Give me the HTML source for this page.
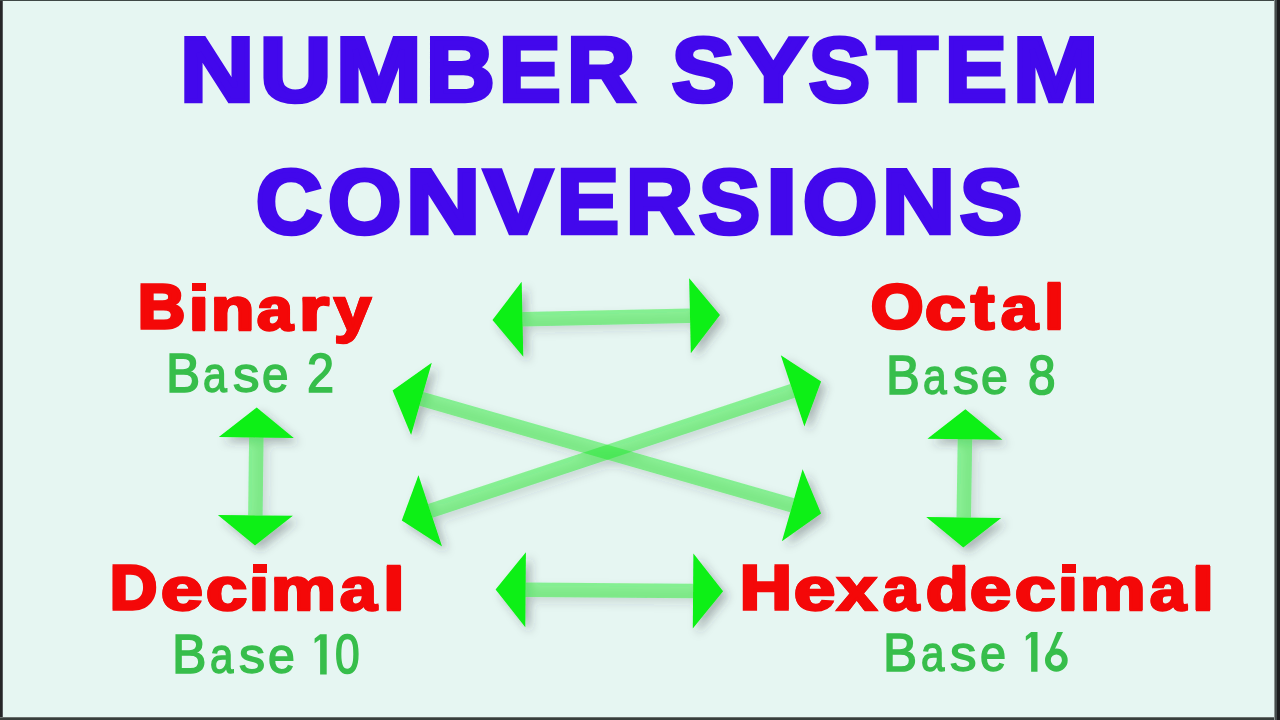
<!DOCTYPE html>
<html><head><meta charset="utf-8">
<style>
html,body{margin:0;padding:0;width:1280px;height:720px;overflow:hidden;background:#262628}
#c{position:absolute;left:0;top:0;width:1280px;height:720px;background:#e6f6f2}
.g{position:absolute;font-family:"Liberation Sans",sans-serif;line-height:1;white-space:pre;transform-origin:0 0;display:block}
svg{position:absolute;left:0;top:0}
.d{position:absolute;display:block}
</style></head><body>
<div id="c"></div>
<i class="d" style="left:0;top:0;width:2px;height:720px;background:#262628"></i>
<i class="d" style="left:2px;top:0;width:1px;height:720px;background:#55585a"></i>
<i class="d" style="left:0;top:0;width:1280px;height:1px;background:#3f4846"></i>
<i class="d" style="left:1274px;top:0;width:1px;height:720px;background:#8a9290"></i>
<i class="d" style="left:1275px;top:0;width:2px;height:720px;background:#454b4b"></i>
<i class="d" style="left:1277px;top:0;width:3px;height:720px;background:#1c1c1e"></i>
<i class="d" style="left:0;top:717px;width:1274px;height:1px;background:#6a706e"></i>
<i class="d" style="left:0;top:718px;width:1274px;height:2px;background:#383e3c"></i>
<svg width="1280" height="720" viewBox="0 0 1280 720">
<defs><filter id="sh" x="-20%" y="-20%" width="140%" height="140%"><feDropShadow dx="5" dy="5" stdDeviation="5" flood-color="#303040" flood-opacity="0.33"/></filter></defs>
<g filter="url(#sh)"><g stroke="#19eb23" stroke-opacity="0.45" stroke-width="14.5"><line x1="522.49" y1="319.34" x2="690.01" y2="315.66"/><line x1="525.60" y1="589.64" x2="693.10" y2="591.01"/><line x1="256.33" y1="437.50" x2="255.37" y2="515.40"/><line x1="964.94" y1="439.20" x2="963.76" y2="517.50"/><line x1="421.44" y1="398.87" x2="792.26" y2="505.23"/><line x1="430.28" y1="510.96" x2="792.62" y2="390.84"/></g><g fill="#08f012"><polygon points="492.50,320.00 523.32,356.83 521.67,281.85"/><polygon points="720.00,315.00 690.83,353.15 689.18,278.17"/><polygon points="495.60,589.40 525.29,627.14 525.90,552.15"/><polygon points="723.10,591.25 692.80,628.50 693.41,553.51"/><polygon points="256.70,407.50 218.83,437.04 293.83,437.96"/><polygon points="255.00,545.40 217.87,514.94 292.87,515.86"/><polygon points="965.40,409.20 927.45,438.63 1002.44,439.77"/><polygon points="963.30,547.50 926.26,516.93 1001.25,518.07"/><polygon points="392.60,390.60 411.10,434.92 431.78,362.82"/><polygon points="821.10,513.50 781.92,541.28 802.60,469.18"/><polygon points="401.80,520.40 442.08,546.56 418.48,475.36"/><polygon points="821.10,381.40 804.42,426.44 780.82,355.24"/></g></g><ellipse cx="1056.35" cy="660.16" rx="8.46" ry="8.65" fill="none" stroke="#37be4b" stroke-width="5.79"/><polygon fill="#37be4b" points="1057.10,631.90 1063.01,631.90 1051.66,655.78 1045.75,659.76"/><polygon fill="#37be4b" points="320.11,634.25 326.70,634.25 326.70,674.50 320.11,674.50 320.11,639.40 314.60,643.31 314.60,638.60"/><polygon fill="#37be4b" points="1031.12,631.90 1037.50,631.90 1037.50,671.70 1031.12,671.70 1031.12,636.99 1025.80,640.86 1025.80,636.20"/>
</svg>
<span class="g" style="left:180.44px;top:24.22px;font-size:90.0px;font-weight:700;color:#4208ec;-webkit-text-stroke:4.5px #4208ec;text-shadow:1.5px 0 0 #4208ec,-1.5px 0 0 #4208ec;transform:scale(1.1404,1.0075)">N</span>
<span class="g" style="left:260.02px;top:24.22px;font-size:90.0px;font-weight:700;color:#4208ec;-webkit-text-stroke:4.5px #4208ec;text-shadow:1.5px 0 0 #4208ec,-1.5px 0 0 #4208ec;transform:scale(1.0949,1.0075)">U</span>
<span class="g" style="left:336.34px;top:24.22px;font-size:90.0px;font-weight:700;color:#4208ec;-webkit-text-stroke:4.5px #4208ec;text-shadow:1.5px 0 0 #4208ec,-1.5px 0 0 #4208ec;transform:scale(1.1403,1.0075)">M</span>
<span class="g" style="left:425.58px;top:24.22px;font-size:90.0px;font-weight:700;color:#4208ec;-webkit-text-stroke:4.5px #4208ec;text-shadow:1.5px 0 0 #4208ec,-1.5px 0 0 #4208ec;transform:scale(1.0559,1.0075)">B</span>
<span class="g" style="left:499.10px;top:24.22px;font-size:90.0px;font-weight:700;color:#4208ec;-webkit-text-stroke:4.5px #4208ec;text-shadow:1.5px 0 0 #4208ec,-1.5px 0 0 #4208ec;transform:scale(1.0255,1.0075)">E</span>
<span class="g" style="left:567.11px;top:24.22px;font-size:90.0px;font-weight:700;color:#4208ec;-webkit-text-stroke:4.5px #4208ec;text-shadow:1.5px 0 0 #4208ec,-1.5px 0 0 #4208ec;transform:scale(1.0476,1.0075)">R</span>
<span class="g" style="left:671.80px;top:24.22px;font-size:90.0px;font-weight:700;color:#4208ec;-webkit-text-stroke:4.5px #4208ec;text-shadow:1.5px 0 0 #4208ec,-1.5px 0 0 #4208ec;transform:scale(1.0390,1.0075)">S</span>
<span class="g" style="left:740.42px;top:24.22px;font-size:90.0px;font-weight:700;color:#4208ec;-webkit-text-stroke:4.5px #4208ec;text-shadow:1.5px 0 0 #4208ec,-1.5px 0 0 #4208ec;transform:scale(1.1109,1.0075)">Y</span>
<span class="g" style="left:809.30px;top:24.22px;font-size:90.0px;font-weight:700;color:#4208ec;-webkit-text-stroke:4.5px #4208ec;text-shadow:1.5px 0 0 #4208ec,-1.5px 0 0 #4208ec;transform:scale(1.0153,1.0075)">S</span>
<span class="g" style="left:877.40px;top:24.22px;font-size:90.0px;font-weight:700;color:#4208ec;-webkit-text-stroke:4.5px #4208ec;text-shadow:1.5px 0 0 #4208ec,-1.5px 0 0 #4208ec;transform:scale(1.0982,1.0075)">T</span>
<span class="g" style="left:944.89px;top:24.22px;font-size:90.0px;font-weight:700;color:#4208ec;-webkit-text-stroke:4.5px #4208ec;text-shadow:1.5px 0 0 #4208ec,-1.5px 0 0 #4208ec;transform:scale(1.0273,1.0075)">E</span>
<span class="g" style="left:1012.55px;top:24.22px;font-size:90.0px;font-weight:700;color:#4208ec;-webkit-text-stroke:4.5px #4208ec;text-shadow:1.5px 0 0 #4208ec,-1.5px 0 0 #4208ec;transform:scale(1.1373,1.0075)">M</span>
<span class="g" style="left:256.08px;top:156.97px;font-size:90.0px;font-weight:700;color:#4208ec;-webkit-text-stroke:4.5px #4208ec;text-shadow:1.5px 0 0 #4208ec,-1.5px 0 0 #4208ec;transform:scale(1.0156,1.0030)">C</span>
<span class="g" style="left:328.15px;top:156.97px;font-size:90.0px;font-weight:700;color:#4208ec;-webkit-text-stroke:4.5px #4208ec;text-shadow:1.5px 0 0 #4208ec,-1.5px 0 0 #4208ec;transform:scale(1.0463,1.0030)">O</span>
<span class="g" style="left:405.94px;top:156.97px;font-size:90.0px;font-weight:700;color:#4208ec;-webkit-text-stroke:4.5px #4208ec;text-shadow:1.5px 0 0 #4208ec,-1.5px 0 0 #4208ec;transform:scale(1.1404,1.0030)">N</span>
<span class="g" style="left:483.88px;top:156.97px;font-size:90.0px;font-weight:700;color:#4208ec;-webkit-text-stroke:4.5px #4208ec;text-shadow:1.5px 0 0 #4208ec,-1.5px 0 0 #4208ec;transform:scale(1.1375,1.0030)">V</span>
<span class="g" style="left:557.38px;top:156.97px;font-size:90.0px;font-weight:700;color:#4208ec;-webkit-text-stroke:4.5px #4208ec;text-shadow:1.5px 0 0 #4208ec,-1.5px 0 0 #4208ec;transform:scale(1.0309,1.0030)">E</span>
<span class="g" style="left:625.87px;top:156.97px;font-size:90.0px;font-weight:700;color:#4208ec;-webkit-text-stroke:4.5px #4208ec;text-shadow:1.5px 0 0 #4208ec,-1.5px 0 0 #4208ec;transform:scale(1.0317,1.0030)">R</span>
<span class="g" style="left:699.00px;top:156.97px;font-size:90.0px;font-weight:700;color:#4208ec;-webkit-text-stroke:4.5px #4208ec;text-shadow:1.5px 0 0 #4208ec,-1.5px 0 0 #4208ec;transform:scale(1.0169,1.0030)">S</span>
<span class="g" style="left:766.19px;top:156.97px;font-size:90.0px;font-weight:700;color:#4208ec;-webkit-text-stroke:4.5px #4208ec;text-shadow:1.5px 0 0 #4208ec,-1.5px 0 0 #4208ec;transform:scale(1.2529,1.0030)">I</span>
<span class="g" style="left:802.64px;top:156.97px;font-size:90.0px;font-weight:700;color:#4208ec;-webkit-text-stroke:4.5px #4208ec;text-shadow:1.5px 0 0 #4208ec,-1.5px 0 0 #4208ec;transform:scale(1.0612,1.0030)">O</span>
<span class="g" style="left:881.51px;top:156.97px;font-size:90.0px;font-weight:700;color:#4208ec;-webkit-text-stroke:4.5px #4208ec;text-shadow:1.5px 0 0 #4208ec,-1.5px 0 0 #4208ec;transform:scale(1.1228,1.0030)">N</span>
<span class="g" style="left:960.00px;top:156.97px;font-size:90.0px;font-weight:700;color:#4208ec;-webkit-text-stroke:4.5px #4208ec;text-shadow:1.5px 0 0 #4208ec,-1.5px 0 0 #4208ec;transform:scale(1.0339,1.0030)">S</span>
<span class="g" style="left:137.70px;top:275.47px;font-size:62.1px;font-weight:700;color:#f40808;-webkit-text-stroke:3.5px #f40808;text-shadow:1.5px 0 0 #f40808,-1.5px 0 0 #f40808;transform:scale(1.0476,1.0191)">B</span>
<span class="g" style="left:188.60px;top:279.01px;font-size:62.1px;font-weight:700;color:#f40808;-webkit-text-stroke:2.5px #f40808;text-shadow:1.5px 0 0 #f40808,-1.5px 0 0 #f40808;transform:scale(1.1333,0.9714)">ı</span>
<span class="g" style="left:210.88px;top:279.01px;font-size:62.1px;font-weight:700;color:#f40808;-webkit-text-stroke:2.5px #f40808;text-shadow:1.5px 0 0 #f40808,-1.5px 0 0 #f40808;transform:scale(1.1394,0.9714)">n</span>
<span class="g" style="left:257.00px;top:279.01px;font-size:62.1px;font-weight:700;color:#f40808;-webkit-text-stroke:2.5px #f40808;text-shadow:1.5px 0 0 #f40808,-1.5px 0 0 #f40808;transform:scale(1.0405,0.9714)">a</span>
<span class="g" style="left:298.98px;top:279.01px;font-size:62.1px;font-weight:700;color:#f40808;-webkit-text-stroke:2.5px #f40808;text-shadow:1.5px 0 0 #f40808,-1.5px 0 0 #f40808;transform:scale(1.2409,0.9714)">r</span>
<span class="g" style="left:334.07px;top:279.01px;font-size:62.1px;font-weight:700;color:#f40808;-webkit-text-stroke:2.5px #f40808;text-shadow:1.5px 0 0 #f40808,-1.5px 0 0 #f40808;transform:scale(1.0730,0.9714)">y</span>
<span class="g" style="left:870.62px;top:275.24px;font-size:62.1px;font-weight:700;color:#f40808;-webkit-text-stroke:3.5px #f40808;text-shadow:1.5px 0 0 #f40808,-1.5px 0 0 #f40808;transform:scale(1.0826,1.0234)">O</span>
<span class="g" style="left:925.02px;top:278.26px;font-size:62.1px;font-weight:700;color:#f40808;-webkit-text-stroke:2.5px #f40808;text-shadow:1.5px 0 0 #f40808,-1.5px 0 0 #f40808;transform:scale(1.1818,0.9857)">c</span>
<span class="g" style="left:971.12px;top:277.39px;font-size:62.1px;font-weight:700;color:#f40808;-webkit-text-stroke:2.5px #f40808;text-shadow:1.5px 0 0 #f40808,-1.5px 0 0 #f40808;transform:scale(1.1217,1.0021)">t</span>
<span class="g" style="left:1001.00px;top:278.26px;font-size:62.1px;font-weight:700;color:#f40808;-webkit-text-stroke:2.5px #f40808;text-shadow:1.5px 0 0 #f40808,-1.5px 0 0 #f40808;transform:scale(1.0676,0.9857)">a</span>
<span class="g" style="left:1043.78px;top:277.39px;font-size:62.1px;font-weight:700;color:#f40808;-webkit-text-stroke:2.5px #f40808;text-shadow:1.5px 0 0 #f40808,-1.5px 0 0 #f40808;transform:scale(1.1727,1.0021)">l</span>
<span class="g" style="left:110.00px;top:557.25px;font-size:62.1px;font-weight:700;color:#f40808;-webkit-text-stroke:3.5px #f40808;text-shadow:1.5px 0 0 #f40808,-1.5px 0 0 #f40808;transform:scale(1.0512,1.0000)">D</span>
<span class="g" style="left:160.69px;top:559.39px;font-size:62.1px;font-weight:700;color:#f40808;-webkit-text-stroke:2.5px #f40808;text-shadow:1.5px 0 0 #f40808,-1.5px 0 0 #f40808;transform:scale(1.2121,0.9786)">e</span>
<span class="g" style="left:205.71px;top:559.39px;font-size:62.1px;font-weight:700;color:#f40808;-webkit-text-stroke:2.5px #f40808;text-shadow:1.5px 0 0 #f40808,-1.5px 0 0 #f40808;transform:scale(1.1924,0.9786)">c</span>
<span class="g" style="left:249.31px;top:559.39px;font-size:62.1px;font-weight:700;color:#f40808;-webkit-text-stroke:2.5px #f40808;text-shadow:1.5px 0 0 #f40808,-1.5px 0 0 #f40808;transform:scale(1.1458,0.9786)">ı</span>
<span class="g" style="left:271.48px;top:559.39px;font-size:62.1px;font-weight:700;color:#f40808;-webkit-text-stroke:2.5px #f40808;text-shadow:1.5px 0 0 #f40808,-1.5px 0 0 #f40808;transform:scale(1.1750,0.9786)">m</span>
<span class="g" style="left:340.00px;top:559.39px;font-size:62.1px;font-weight:700;color:#f40808;-webkit-text-stroke:2.5px #f40808;text-shadow:1.5px 0 0 #f40808,-1.5px 0 0 #f40808;transform:scale(1.0649,0.9786)">a</span>
<span class="g" style="left:382.50px;top:559.35px;font-size:62.1px;font-weight:700;color:#f40808;-webkit-text-stroke:2.5px #f40808;text-shadow:1.5px 0 0 #f40808,-1.5px 0 0 #f40808;transform:scale(1.2500,0.9792)">l</span>
<span class="g" style="left:739.80px;top:556.96px;font-size:62.1px;font-weight:700;color:#f40808;-webkit-text-stroke:3.5px #f40808;text-shadow:1.5px 0 0 #f40808,-1.5px 0 0 #f40808;transform:scale(1.1500,1.0053)">H</span>
<span class="g" style="left:794.41px;top:559.39px;font-size:62.1px;font-weight:700;color:#f40808;-webkit-text-stroke:2.5px #f40808;text-shadow:1.5px 0 0 #f40808,-1.5px 0 0 #f40808;transform:scale(1.1939,0.9786)">e</span>
<span class="g" style="left:837.40px;top:559.39px;font-size:62.1px;font-weight:700;color:#f40808;-webkit-text-stroke:2.5px #f40808;text-shadow:1.5px 0 0 #f40808,-1.5px 0 0 #f40808;transform:scale(1.1486,0.9786)">x</span>
<span class="g" style="left:882.50px;top:559.39px;font-size:62.1px;font-weight:700;color:#f40808;-webkit-text-stroke:2.5px #f40808;text-shadow:1.5px 0 0 #f40808,-1.5px 0 0 #f40808;transform:scale(1.0473,0.9786)">a</span>
<span class="g" style="left:925.78px;top:559.08px;font-size:62.1px;font-weight:700;color:#f40808;-webkit-text-stroke:2.5px #f40808;text-shadow:1.5px 0 0 #f40808,-1.5px 0 0 #f40808;transform:scale(1.1206,0.9844)">d</span>
<span class="g" style="left:970.06px;top:559.39px;font-size:62.1px;font-weight:700;color:#f40808;-webkit-text-stroke:2.5px #f40808;text-shadow:1.5px 0 0 #f40808,-1.5px 0 0 #f40808;transform:scale(1.1924,0.9786)">e</span>
<span class="g" style="left:1015.08px;top:559.39px;font-size:62.1px;font-weight:700;color:#f40808;-webkit-text-stroke:2.5px #f40808;text-shadow:1.5px 0 0 #f40808,-1.5px 0 0 #f40808;transform:scale(1.1742,0.9786)">c</span>
<span class="g" style="left:1058.48px;top:559.39px;font-size:62.1px;font-weight:700;color:#f40808;-webkit-text-stroke:2.5px #f40808;text-shadow:1.5px 0 0 #f40808,-1.5px 0 0 #f40808;transform:scale(1.1417,0.9786)">ı</span>
<span class="g" style="left:1080.19px;top:559.39px;font-size:62.1px;font-weight:700;color:#f40808;-webkit-text-stroke:2.5px #f40808;text-shadow:1.5px 0 0 #f40808,-1.5px 0 0 #f40808;transform:scale(1.1870,0.9786)">m</span>
<span class="g" style="left:1150.00px;top:559.39px;font-size:62.1px;font-weight:700;color:#f40808;-webkit-text-stroke:2.5px #f40808;text-shadow:1.5px 0 0 #f40808,-1.5px 0 0 #f40808;transform:scale(1.0473,0.9786)">a</span>
<span class="g" style="left:1191.78px;top:559.08px;font-size:62.1px;font-weight:700;color:#f40808;-webkit-text-stroke:2.5px #f40808;text-shadow:1.5px 0 0 #f40808,-1.5px 0 0 #f40808;transform:scale(1.2727,0.9844)">l</span>
<span class="g" style="left:166.05px;top:345.78px;font-size:54.75px;font-weight:400;color:#37be4b;-webkit-text-stroke:1.6px #37be4b;transform:scale(0.9367,1.0025)">B</span>
<span class="g" style="left:202.93px;top:349.54px;font-size:54.75px;font-weight:400;color:#37be4b;-webkit-text-stroke:1.6px #37be4b;transform:scale(0.7828,0.9226)">a</span>
<span class="g" style="left:232.83px;top:349.54px;font-size:54.75px;font-weight:400;color:#37be4b;-webkit-text-stroke:1.6px #37be4b;transform:scale(0.9680,0.9226)">s</span>
<span class="g" style="left:262.06px;top:349.54px;font-size:54.75px;font-weight:400;color:#37be4b;-webkit-text-stroke:1.6px #37be4b;transform:scale(0.8704,0.9226)">e</span>
<span class="g" style="left:307.32px;top:345.78px;font-size:54.75px;font-weight:400;color:#37be4b;-webkit-text-stroke:1.6px #37be4b;transform:scale(0.8885,1.0025)">2</span>
<span class="g" style="left:885.79px;top:348.28px;font-size:54.75px;font-weight:400;color:#37be4b;-webkit-text-stroke:1.6px #37be4b;transform:scale(0.9267,1.0025)">B</span>
<span class="g" style="left:922.75px;top:352.04px;font-size:54.75px;font-weight:400;color:#37be4b;-webkit-text-stroke:1.6px #37be4b;transform:scale(0.7759,0.9226)">a</span>
<span class="g" style="left:952.55px;top:352.04px;font-size:54.75px;font-weight:400;color:#37be4b;-webkit-text-stroke:1.6px #37be4b;transform:scale(0.9480,0.9226)">s</span>
<span class="g" style="left:981.44px;top:352.04px;font-size:54.75px;font-weight:400;color:#37be4b;-webkit-text-stroke:1.6px #37be4b;transform:scale(0.8815,0.9226)">e</span>
<span class="g" style="left:1027.79px;top:348.28px;font-size:54.75px;font-weight:400;color:#37be4b;-webkit-text-stroke:1.6px #37be4b;transform:scale(0.9074,1.0025)">8</span>
<span class="g" style="left:172.33px;top:627.21px;font-size:54.75px;font-weight:400;color:#37be4b;-webkit-text-stroke:1.6px #37be4b;transform:scale(0.9433,1.0063)">B</span>
<span class="g" style="left:209.86px;top:631.14px;font-size:54.75px;font-weight:400;color:#37be4b;-webkit-text-stroke:1.6px #37be4b;transform:scale(0.7690,0.9226)">a</span>
<span class="g" style="left:239.35px;top:631.14px;font-size:54.75px;font-weight:400;color:#37be4b;-webkit-text-stroke:1.6px #37be4b;transform:scale(0.9520,0.9226)">s</span>
<span class="g" style="left:268.34px;top:631.14px;font-size:54.75px;font-weight:400;color:#37be4b;-webkit-text-stroke:1.6px #37be4b;transform:scale(0.8815,0.9226)">e</span>
<span class="g" style="left:334.89px;top:627.21px;font-size:54.75px;font-weight:400;color:#37be4b;-webkit-text-stroke:1.6px #37be4b;transform:scale(0.8107,1.0063)">0</span>
<span class="g" style="left:883.47px;top:624.93px;font-size:54.75px;font-weight:400;color:#37be4b;-webkit-text-stroke:1.6px #37be4b;transform:scale(0.9333,0.9950)">B</span>
<span class="g" style="left:920.66px;top:628.64px;font-size:54.75px;font-weight:400;color:#37be4b;-webkit-text-stroke:1.6px #37be4b;transform:scale(0.7690,0.9161)">a</span>
<span class="g" style="left:950.13px;top:628.64px;font-size:54.75px;font-weight:400;color:#37be4b;-webkit-text-stroke:1.6px #37be4b;transform:scale(0.9680,0.9161)">s</span>
<span class="g" style="left:979.89px;top:628.64px;font-size:54.75px;font-weight:400;color:#37be4b;-webkit-text-stroke:1.6px #37be4b;transform:scale(0.8556,0.9161)">e</span>
<i class="d" style="left:192.00px;top:282.60px;width:13.60px;height:8.60px;background:#f40808"></i>
<i class="d" style="left:252.75px;top:564.25px;width:13.75px;height:8.60px;background:#f40808"></i>
<i class="d" style="left:1061.90px;top:564.00px;width:13.70px;height:8.60px;background:#f40808"></i>
</body></html>
